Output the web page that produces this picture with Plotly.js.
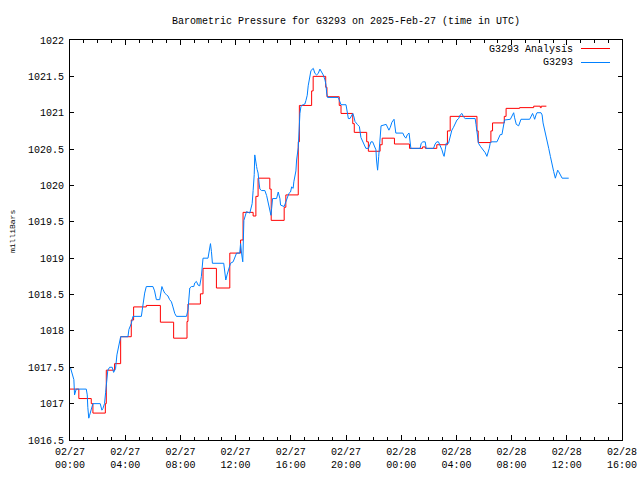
<!DOCTYPE html>
<html>
<head>
<meta charset="utf-8">
<script src="https://cdn.plot.ly/plotly-3.0.1.min.js"></script>
<style>html,body{margin:0;padding:0;background:#fff;}#chart{width:640px;height:480px;}</style>
</head>
<body>
<div id="chart"></div>
<script>
// Hours since 2025-02-27 00:00 UTC
const analysisHours = [0,0.64,1.54,1.66,2.56,2.63,3.23,3.67,4.44,4.61,5.53,6.55,7.51,8.48,8.55,9.45,9.64,10.61,11.58,12.36,12.54,13.27,13.47,13.63,14.48,14.58,15.52,15.64,16.54,16.62,17.51,17.62,18.53,18.62,19.51,19.64,20.49,20.6,21.5,21.62,22.47,22.62,23.51,24.6,25.55,25.75,26.58,27.35,27.55,29.49,29.58,30.5,30.62,31.47,31.6,32.58,33.6,34.08,34.15,34.52];
const analysisValues = [1017.20,1017.07,1017.00,1016.87,1017.00,1017.46,1017.55,1017.92,1018.15,1018.33,1018.35,1018.12,1017.90,1018.13,1018.37,1018.51,1018.86,1018.59,1019.07,1019.25,1019.63,1019.58,1019.85,1020.10,1019.95,1019.52,1019.70,1019.87,1020.60,1021.10,1021.30,1021.50,1021.35,1021.22,1021.10,1020.99,1020.85,1020.73,1020.60,1020.47,1020.56,1020.65,1020.57,1020.51,1020.53,1020.51,1020.56,1020.75,1020.95,1020.75,1020.59,1020.75,1020.86,1020.95,1021.06,1021.07,1021.09,1021.07,1021.09,1021.09];

const obsHours = [0.04,0.28,0.33,0.38,0.45,1.18,1.25,1.29,1.36,1.42,1.54,1.61,1.66,2.19,2.31,2.38,2.50,2.58,2.65,2.74,2.87,3.06,3.16,3.30,3.40,3.52,3.59,3.67,4.20,4.27,4.44,4.56,5.17,5.28,5.41,5.53,6.01,6.13,6.26,6.50,6.55,6.66,6.74,6.86,6.98,7.10,7.22,7.35,7.46,7.59,7.71,8.44,8.55,8.62,8.68,8.80,8.97,9.04,9.16,9.28,9.40,9.52,9.57,9.64,10.00,10.08,10.18,10.25,10.32,11.14,11.21,11.29,11.38,11.53,11.63,11.82,12.07,12.30,12.36,12.43,12.52,12.60,12.67,12.79,13.03,13.20,13.27,13.35,13.39,13.44,13.52,13.56,13.63,13.71,13.76,13.88,14.12,14.25,14.48,14.56,14.61,14.68,14.97,15.09,15.21,15.26,15.52,15.64,15.77,15.86,15.98,16.06,16.17,16.22,16.37,16.42,16.54,16.59,16.66,16.73,16.78,16.90,17.02,17.10,17.19,17.26,17.34,17.39,17.46,17.63,17.75,17.87,17.99,18.11,18.24,18.35,18.48,18.55,18.60,18.67,19.44,19.51,19.56,19.64,20.00,20.05,20.17,20.29,20.41,20.49,20.58,20.65,20.82,20.97,21.08,21.19,21.31,21.44,21.63,21.81,21.93,22.05,22.17,22.21,22.29,22.37,22.47,22.54,22.91,23.03,23.11,23.21,23.33,23.48,23.53,23.61,24.12,24.21,24.34,24.45,24.57,24.65,24.70,25.37,25.45,25.57,25.74,25.81,26.34,26.46,26.58,26.70,26.82,26.95,27.06,27.11,27.19,27.26,27.43,27.55,27.67,27.79,27.91,28.04,28.16,28.28,28.40,28.52,28.64,29.36,29.42,29.49,29.60,29.73,29.85,29.97,30.09,30.21,30.31,30.38,30.45,30.53,30.94,31.06,31.18,31.30,31.42,31.49,31.91,32.03,32.15,32.22,32.34,32.51,32.63,32.68,33.31,33.43,33.52,33.60,33.67,33.77,33.84,34.13,34.21,34.28,34.37,34.45,34.57,34.69,34.81,34.93,35.05,35.17,35.25,35.34,35.41,35.54,35.66,36.14];
const obsValues = [1017.49,1017.33,1017.12,1017.16,1017.20,1017.20,1017.12,1016.95,1016.80,1016.84,1016.93,1016.98,1017.00,1017.00,1016.91,1016.93,1017.00,1017.15,1017.35,1017.46,1017.50,1017.50,1017.43,1017.48,1017.67,1017.77,1017.83,1017.92,1017.92,1018.02,1018.10,1018.20,1018.20,1018.35,1018.52,1018.61,1018.61,1018.55,1018.43,1018.43,1018.50,1018.61,1018.57,1018.52,1018.50,1018.48,1018.43,1018.40,1018.33,1018.24,1018.20,1018.20,1018.29,1018.43,1018.59,1018.61,1018.61,1018.66,1018.68,1018.63,1018.62,1018.75,1018.93,1019.00,1019.00,1019.07,1019.20,1019.09,1018.93,1018.93,1018.84,1018.70,1018.77,1018.88,1018.93,1018.95,1019.07,1019.07,1019.20,1019.07,1018.95,1019.52,1019.58,1019.64,1019.62,1019.75,1019.93,1020.15,1020.42,1020.33,1020.26,1020.22,1020.17,1020.02,1019.95,1019.93,1019.93,1019.86,1019.68,1019.59,1019.68,1019.82,1019.82,1019.91,1019.82,1019.73,1019.71,1019.78,1019.84,1019.89,1019.91,1019.98,1019.96,1020.05,1020.20,1020.35,1020.52,1020.77,1020.99,1021.08,1021.10,1021.11,1021.12,1021.17,1021.24,1021.37,1021.46,1021.51,1021.58,1021.61,1021.54,1021.52,1021.54,1021.60,1021.56,1021.52,1021.45,1021.38,1021.27,1021.21,1021.21,1021.17,1021.13,1021.11,1021.11,1021.04,1020.92,1020.92,1020.97,1020.99,1020.94,1020.88,1020.84,1020.81,1020.66,1020.62,1020.57,1020.51,1020.51,1020.60,1020.60,1020.55,1020.49,1020.35,1020.21,1020.40,1020.62,1020.82,1020.84,1020.80,1020.76,1020.80,1020.87,1020.91,1020.83,1020.72,1020.72,1020.68,1020.65,1020.70,1020.72,1020.61,1020.51,1020.51,1020.58,1020.60,1020.60,1020.51,1020.51,1020.57,1020.60,1020.60,1020.55,1020.49,1020.42,1020.40,1020.49,1020.58,1020.58,1020.67,1020.76,1020.80,1020.85,1020.90,1020.92,1020.97,1020.99,1020.94,1020.92,1020.92,1020.84,1020.70,1020.58,1020.54,1020.51,1020.49,1020.45,1020.40,1020.45,1020.51,1020.58,1020.60,1020.60,1020.65,1020.70,1020.70,1020.81,1020.90,1020.91,1020.95,1021.00,1020.93,1020.84,1020.82,1020.87,1020.91,1020.91,1020.95,1020.99,1020.95,1020.91,1020.97,1021.00,1021.00,1020.97,1020.86,1020.79,1020.72,1020.63,1020.51,1020.40,1020.28,1020.19,1020.10,1020.17,1020.21,1020.19,1020.15,1020.10,1020.10];

const xTickHours = [0,4,8,12,16,20,24,28,32,36,40];
const xTickLabels = ["02/27<br>00:00","02/27<br>04:00","02/27<br>08:00","02/27<br>12:00","02/27<br>16:00","02/27<br>20:00","02/28<br>00:00","02/28<br>04:00","02/28<br>08:00","02/28<br>12:00","02/28<br>16:00"];
const yTickValues = [1016.5,1017,1017.5,1018,1018.5,1019,1019.5,1020,1020.5,1021,1021.5,1022];
const yTickLabels = ["1016.5","1017","1017.5","1018","1018.5","1019","1019.5","1020","1020.5","1021","1021.5","1022"];

const seriesNames = ["G3293 Analysis", "G3293"];
const seriesColors = ["#ff0000", "#0080ff"];

const FONT = "Liberation Mono, DejaVu Sans Mono, monospace";

const traces = [
  {x: analysisHours, y: analysisValues, name: seriesNames[0], type: 'scatter', mode: 'lines',
   line: {color: seriesColors[0], width: 1, shape: 'hv'}},
  {x: obsHours, y: obsValues, name: seriesNames[1], type: 'scatter', mode: 'lines',
   line: {color: seriesColors[1], width: 1}}
];

const L = 70, R = 18, T = 40, B = 40;
const PW = 640 - L - R, PH = 480 - T - B;
const px = v => (v - L) / PW;
const py = v => (480 - B - v) / PH;

const layout = {
  width: 640, height: 480,
  margin: {l: L, r: R, t: T, b: B, pad: 0},
  paper_bgcolor: '#ffffff', plot_bgcolor: '#ffffff',
  showlegend: false,
  font: {family: FONT, size: 10, color: '#000'},
  title: {text: 'Barometric Pressure for G3293 on 2025-Feb-27 (time in UTC)',
          font: {family: FONT, size: 10, color: '#000'},
          x: 0.5, xref: 'paper', xanchor: 'center', y: 1 - 20/480, yref: 'container', yanchor: 'middle'},
  xaxis: {range: [0, 40], tickmode: 'array', tickvals: xTickHours, ticktext: xTickLabels,
          ticks: 'inside', ticklen: 5, tickwidth: 1, tickcolor: '#000',
          minor: {tickmode: 'linear', tick0: 0, dtick: 1, ticks: 'inside', ticklen: 3, tickwidth: 1, tickcolor: '#000', showgrid: false},
          showline: true, linecolor: '#000', linewidth: 1, mirror: 'allticks',
          showgrid: false, zeroline: false, tickfont: {family: FONT, size: 10, color: '#000'},
          ticklabelstandoff: 2},
  yaxis: {range: [1016.5, 1022], tickmode: 'array', tickvals: yTickValues, ticktext: yTickLabels,
          ticks: 'inside', ticklen: 4, tickwidth: 1, tickcolor: '#000',
          showline: true, linecolor: '#000', linewidth: 1, mirror: 'allticks',
          showgrid: false, zeroline: false, tickfont: {family: FONT, size: 10, color: '#000'},
          ticklabelstandoff: 3},
  annotations: [
    {text: 'milliBars', textangle: -90, xref: 'paper', yref: 'paper', x: px(12), y: py(232),
     xanchor: 'center', yanchor: 'middle', showarrow: false, font: {family: FONT, size: 8, color: '#000'}},
    {text: seriesNames[0], xref: 'paper', yref: 'paper', x: px(575), y: py(49.5),
     xanchor: 'right', yanchor: 'middle', showarrow: false, font: {family: FONT, size: 10, color: '#000'}},
    {text: seriesNames[1], xref: 'paper', yref: 'paper', x: px(575), y: py(62.5),
     xanchor: 'right', yanchor: 'middle', showarrow: false, font: {family: FONT, size: 10, color: '#000'}}
  ],
  shapes: [
    {type: 'line', xref: 'paper', yref: 'paper', x0: px(581), x1: px(610), y0: py(48.5), y1: py(48.5),
     line: {color: seriesColors[0], width: 1}},
    {type: 'line', xref: 'paper', yref: 'paper', x0: px(581), x1: px(610), y0: py(62.5), y1: py(62.5),
     line: {color: seriesColors[1], width: 1}}
  ]
};

Plotly.newPlot('chart', traces, layout, {staticPlot: true, displayModeBar: false});
</script>
</body>
</html>
